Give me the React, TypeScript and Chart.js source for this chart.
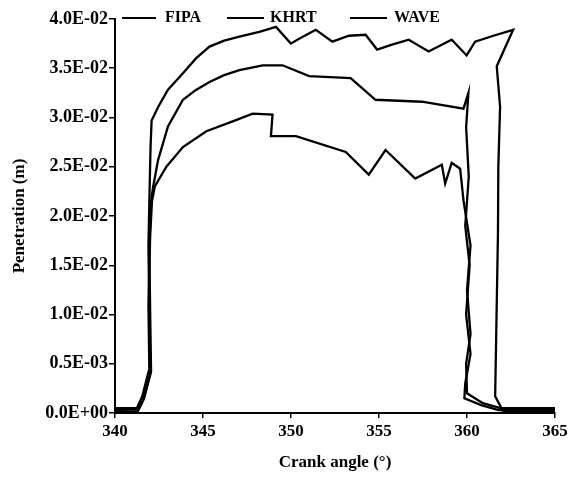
import React, { useEffect, useRef } from "react";
import { Chart, registerables } from "chart.js";

Chart.register(...registerables);

// ---- data ----
const seriesNames = ["FIPA", "KHRT", "WAVE"];

const fipaAngle = [
  340, 341.3, 341.6, 342.0, 341.95, 341.9, 341.97, 342.02, 342.08, 342.46, 343.0, 343.86, 344.6,
  345.37, 346.2, 347.07, 348.2, 349.15, 349.99, 350.46, 351.41, 352.35, 353.29, 354.24, 354.89,
  355.74, 356.69, 357.82, 359.13, 359.98, 360.46, 361.5, 362.62, 361.69, 361.88, 361.78, 361.76,
  361.6, 362.05, 363.5, 365,
];
const fipaPen = [
  0.0001, 0.0002, 0.0013, 0.004, 0.01, 0.017, 0.023, 0.027, 0.0297, 0.0311, 0.0328, 0.0345, 0.036,
  0.0372, 0.0378, 0.0382, 0.0387, 0.0392, 0.0375, 0.038, 0.0389, 0.0377, 0.0383, 0.0384, 0.0369,
  0.0374, 0.0379, 0.0367, 0.0379, 0.0363, 0.0377, 0.0383, 0.0389, 0.0352, 0.0311, 0.025, 0.0183,
  0.0017, 0.0002, 0.0001, 0.0001,
];

const khrtAngle = [
  340, 341.35, 341.65, 342.05, 342.0, 341.95, 342.05, 342.17, 342.45, 343.01, 343.86, 344.6,
  345.37, 346.2, 347.07, 348.39, 349.52, 351.03, 353.39, 354.8, 357.44, 359.8, 360.08, 359.95,
  360.1, 359.9, 360.15, 359.95, 360.2, 359.9, 359.85, 360.8, 361.8, 363.5, 365,
];
const khrtPen = [
  0.0003, 0.0004, 0.0015, 0.0042, 0.01, 0.017, 0.0215, 0.023, 0.0257, 0.0291, 0.0318, 0.0328,
  0.0336, 0.0343, 0.0348, 0.0353, 0.0353, 0.0342, 0.034, 0.0318, 0.0316, 0.0309, 0.0325, 0.029,
  0.024, 0.019, 0.015, 0.01, 0.006, 0.003, 0.0015, 0.0008, 0.0003, 0.0003, 0.0003,
];

const waveAngle = [
  340, 341.25, 341.55, 341.95, 341.9, 342.0, 342.1, 342.26, 342.92, 343.86, 345.19, 346.69,
  347.82, 348.95, 348.86, 350.28, 353.11, 354.42, 355.37, 357.06, 358.57, 358.76, 359.13, 359.61,
  359.8, 360.2, 360.0, 360.2, 359.95, 360.0, 360.9, 361.9, 363.5, 365,
];
const wavePen = [
  0.0005, 0.0005, 0.0017, 0.0045, 0.011, 0.018, 0.0215, 0.023, 0.025, 0.027, 0.0286, 0.0296,
  0.0304, 0.0303, 0.0281, 0.0281, 0.0265, 0.0242, 0.0267, 0.0238, 0.0252, 0.0233, 0.0254, 0.0248,
  0.0216, 0.017, 0.0125, 0.008, 0.005, 0.002, 0.001, 0.0005, 0.0005, 0.0005,
];

const xTickValues = [340, 345, 350, 355, 360, 365];
const xTickLabels = ["340", "345", "350", "355", "360", "365"];
const yTickValues = [0, 0.005, 0.01, 0.015, 0.02, 0.025, 0.03, 0.035, 0.04];
const yTickLabels = [
  "0.0E+00", "0.5E-03", "1.0E-02", "1.5E-02", "2.0E-02", "2.5E-02", "3.0E-02", "3.5E-02", "4.0E-02",
];

const xTitle = "Crank angle (°)";
const yTitle = "Penetration (m)";

const FONT = "'Liberation Serif', 'Times New Roman', serif";

const toPoints = (xs: number[], ys: number[]) => xs.map((x, i) => ({ x, y: ys[i] }));

const legendPlugin = {
  id: "topLegend",
  afterDraw(chart: any) {
    const { ctx, chartArea } = chart;
    const y = chartArea.top - 1;
    const items = [
      { lineStart: 7, lineEnd: 41, textX: 50 },
      { lineStart: 112, lineEnd: 149, textX: 155 },
      { lineStart: 235, lineEnd: 272, textX: 279 },
    ];
    ctx.save();
    ctx.strokeStyle = "#000";
    ctx.fillStyle = "#000";
    ctx.lineWidth = 2;
    ctx.font = `bold 16px ${FONT}`;
    ctx.textBaseline = "middle";
    ctx.textAlign = "left";
    items.forEach((it, i) => {
      ctx.beginPath();
      ctx.moveTo(chartArea.left + it.lineStart, y);
      ctx.lineTo(chartArea.left + it.lineEnd, y);
      ctx.stroke();
      ctx.fillText(seriesNames[i], chartArea.left + it.textX, y);
    });
    ctx.restore();
  },
};

export default function App() {
  const canvasRef = useRef<HTMLCanvasElement | null>(null);

  useEffect(() => {
    if (!canvasRef.current) return;
    const tickFont = { family: FONT, size: 17, weight: "bold" as const };
    const yTickFont = { family: FONT, size: 18, weight: "bold" as const };
    const lineStyle = {
      borderColor: "#000",
      backgroundColor: "#000",
      borderWidth: 2.3,
      pointRadius: 0,
      showLine: true,
      fill: false,
      tension: 0,
    };
    const chart = new Chart(canvasRef.current, {
      type: "scatter",
      data: {
        datasets: [
          { label: seriesNames[0], data: toPoints(fipaAngle, fipaPen), ...lineStyle },
          { label: seriesNames[1], data: toPoints(khrtAngle, khrtPen), ...lineStyle },
          { label: seriesNames[2], data: toPoints(waveAngle, wavePen), ...lineStyle },
        ],
      },
      options: {
        animation: false,
        responsive: false,
        layout: { padding: { top: 19, right: 19, bottom: 0, left: 0 } },
        plugins: {
          legend: { display: false },
          tooltip: { enabled: false },
        },
        scales: {
          x: {
            type: "linear",
            min: 340,
            max: 365,
            afterBuildTicks: (s: any) => {
              s.ticks = xTickValues.map((v) => ({ value: v }));
            },
            afterFit: (s: any) => {
              s.height = 68;
            },
            ticks: {
              color: "#000",
              font: tickFont,
              padding: 3,
              maxRotation: 0,
              autoSkip: false,
              callback: (v: any) => {
                const i = xTickValues.indexOf(Number(v));
                return i >= 0 ? xTickLabels[i] : "";
              },
            },
            grid: {
              display: true,
              drawOnChartArea: false,
              drawTicks: true,
              tickLength: 5,
              color: "#000",
              lineWidth: 1.5,
            },
            border: { display: true, color: "#000", width: 2 },
            title: {
              display: true,
              text: xTitle,
              color: "#000",
              font: tickFont,
              padding: { top: 0, bottom: 8 },
            },
          },
          y: {
            type: "linear",
            min: 0,
            max: 0.04,
            afterBuildTicks: (s: any) => {
              s.ticks = yTickValues.map((v) => ({ value: v }));
            },
            afterFit: (s: any) => {
              s.width = 115;
            },
            ticks: {
              color: "#000",
              font: yTickFont,
              padding: 1,
              autoSkip: false,
              callback: (v: any) => {
                const i = yTickValues.findIndex((t) => Math.abs(t - Number(v)) < 1e-9);
                return i >= 0 ? yTickLabels[i] : "";
              },
            },
            grid: {
              display: true,
              drawOnChartArea: false,
              drawTicks: true,
              tickLength: 6,
              color: "#000",
              lineWidth: 1.5,
            },
            border: { display: true, color: "#000", width: 2 },
            title: {
              display: true,
              text: yTitle,
              color: "#000",
              font: tickFont,
              padding: { top: 9, bottom: 0 },
            },
          },
        },
      },
      plugins: [legendPlugin],
    });
    return () => chart.destroy();
  }, []);

  return (
    <div style={{ position: "fixed", left: 0, top: 0, width: 574, height: 481, background: "#fff" }}>
      <canvas ref={canvasRef} width={574} height={481} style={{ display: "block" }} />
    </div>
  );
}
